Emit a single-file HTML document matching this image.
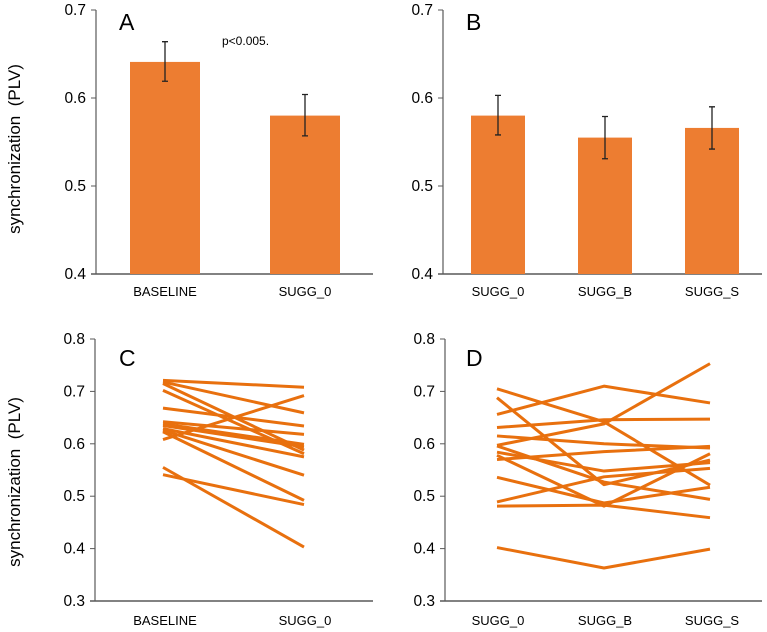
<!DOCTYPE html>
<html><head><meta charset="utf-8"><style>
html,body{margin:0;padding:0;background:#fff;}
svg{display:block;font-family:"Liberation Sans",Arial,sans-serif;}
</style></head><body>
<svg id="chart" width="767" height="632" viewBox="0 0 767 632" xmlns="http://www.w3.org/2000/svg"></svg>
<script>
// Panel A data
const catsA = ["BASELINE", "SUGG_0"];
const meanA = [0.641, 0.580];
const errHiA = [0.664, 0.604];
const errLoA = [0.619, 0.557];
// Panel B data
const catsB = ["SUGG_0", "SUGG_B", "SUGG_S"];
const meanB = [0.580, 0.555, 0.566];
const errHiB = [0.603, 0.579, 0.590];
const errLoB = [0.558, 0.531, 0.542];
// Tick labels
const ticksTop = [0.4, 0.5, 0.6, 0.7];
const ticksBottom = [0.3, 0.4, 0.5, 0.6, 0.7, 0.8];
// Panel C: subject values [BASELINE, SUGG_0]
const subjC_base = [0.721, 0.718, 0.715, 0.702, 0.668, 0.608, 0.642, 0.638, 0.635, 0.629, 0.626, 0.623, 0.555, 0.541];
const subjC_sugg0 = [0.708, 0.659, 0.588, 0.581, 0.634, 0.692, 0.618, 0.599, 0.594, 0.575, 0.540, 0.492, 0.403, 0.484];
// Panel D: subject values
const subjD_0 = [0.656, 0.705, 0.688, 0.631, 0.597, 0.615, 0.570, 0.584, 0.578, 0.596, 0.536, 0.489, 0.481, 0.402];
const subjD_B = [0.710, 0.642, 0.522, 0.646, 0.638, 0.600, 0.585, 0.548, 0.481, 0.527, 0.487, 0.537, 0.483, 0.363];
const subjD_S = [0.678, 0.521, 0.569, 0.647, 0.753, 0.592, 0.595, 0.564, 0.581, 0.494, 0.517, 0.553, 0.459, 0.399];

const NS = "http://www.w3.org/2000/svg";
const svg = document.getElementById("chart");
function mk(tag, attrs, parent) {
  const e = document.createElementNS(NS, tag);
  for (const k in attrs) e.setAttribute(k, attrs[k]);
  (parent || svg).appendChild(e);
  return e;
}
function txt(x, y, s, size, anchor, parent) {
  const t = mk("text", {x: x, y: y, "font-size": size, "text-anchor": anchor || "middle", fill: "#000"}, parent);
  t.textContent = s;
  return t;
}
const AX = "#595959", BAR = "#ED7D31", LINE = "#E8700E";

function axes(g, x0, x1, yFn, ticks, xCenters, cats, labelY) {
  mk("line", {x1: x0, y1: yFn(ticks[0]), x2: x0, y2: yFn(ticks[ticks.length-1]), stroke: AX, "stroke-width": 1.2}, g);
  mk("line", {x1: x0 - 5, y1: yFn(ticks[0]), x2: x1, y2: yFn(ticks[0]), stroke: AX, "stroke-width": 1.5}, g);
  ticks.forEach(v => {
    const tk = mk("line", {x1: x0 - 5, y1: yFn(v), x2: x0, y2: yFn(v), stroke: AX, "stroke-width": 1}, g);
    
    
    const tl = txt(x0 - 10, yFn(v) + 5, v.toFixed(1), 15.5, "end", g);
    
    
  });
  cats.forEach((c, i) => {
    const l = txt(xCenters[i], labelY, c, 13, "middle", g);
    
    
  });
}

// ---- Panel A ----
const gA = mk("g", {});


const yA = v => 274 - (v - 0.4) * 880;
const xA = [165, 305];
axes(gA, 96, 373, yA, ticksTop, xA, catsA, 296);
meanA.forEach((m, i) => {
  const b = mk("rect", {x: xA[i] - 35, y: yA(m), width: 70, height: yA(0.4) - yA(m), fill: BAR}, gA);
  
  
  const e = mk("path", {d: `M${xA[i]-3},${yA(errHiA[i])}H${xA[i]+3}M${xA[i]},${yA(errHiA[i])}V${yA(errLoA[i])}M${xA[i]-3},${yA(errLoA[i])}H${xA[i]+3}`, stroke: "#222", "stroke-width": 1.3, fill: "none"}, gA);
  
  
});
const pA = txt(222, 45, "p<0.005.", 12, "start", gA);


const lA = txt(119, 30, "A", 23, "start", gA);



// ---- Panel B ----
const gB = mk("g", {});


const xB = [498, 605, 712];
axes(gB, 443, 762, yA, ticksTop, xB, catsB, 296);
meanB.forEach((m, i) => {
  const b = mk("rect", {x: xB[i] - 27, y: yA(m), width: 54, height: yA(0.4) - yA(m), fill: BAR}, gB);
  
  
  const e = mk("path", {d: `M${xB[i]-3},${yA(errHiB[i])}H${xB[i]+3}M${xB[i]},${yA(errHiB[i])}V${yA(errLoB[i])}M${xB[i]-3},${yA(errLoB[i])}H${xB[i]+3}`, stroke: "#222", "stroke-width": 1.3, fill: "none"}, gB);
  
  
});
const lB = txt(466, 30, "B", 23, "start", gB);



// ---- Panel C ----
const gC = mk("g", {});


const yC = v => 601 - (v - 0.3) * 524;
const xC = [163, 304];
axes(gC, 95, 373, yC, ticksBottom, [165, 305], catsA, 625);
subjC_base.forEach((v, i) => {
  const p = mk("polyline", {points: `${xC[0]},${yC(v)} ${xC[1]},${yC(subjC_sugg0[i])}`, stroke: LINE, "stroke-width": 3, fill: "none"}, gC);
  
  
});
const lC = txt(119, 366, "C", 23, "start", gC);



// ---- Panel D ----
const gD = mk("g", {});


const xD = [497, 604, 710];
axes(gD, 445, 762, yC, ticksBottom, [498, 605, 712], catsB, 625);
subjD_0.forEach((v, i) => {
  const p = mk("polyline", {points: `${xD[0]},${yC(v)} ${xD[1]},${yC(subjD_B[i])} ${xD[2]},${yC(subjD_S[i])}`, stroke: LINE, "stroke-width": 3, fill: "none", "stroke-linejoin": "round"}, gD);
  
  
});
const lD = txt(466, 366, "D", 23, "start", gD);



// Y-axis titles
[[149, 'y-axis-title-top'], [482, 'y-axis-title-bottom']].forEach(([cy, nm]) => {
  const t = mk("text", {x: 0, y: 0, "font-size": 17, "text-anchor": "middle", fill: "#000", transform: `translate(20,${cy}) rotate(-90)`, style: "white-space:pre"});
  t.textContent = "synchronization  (PLV)";
  
  
});
</script>
</body></html>
